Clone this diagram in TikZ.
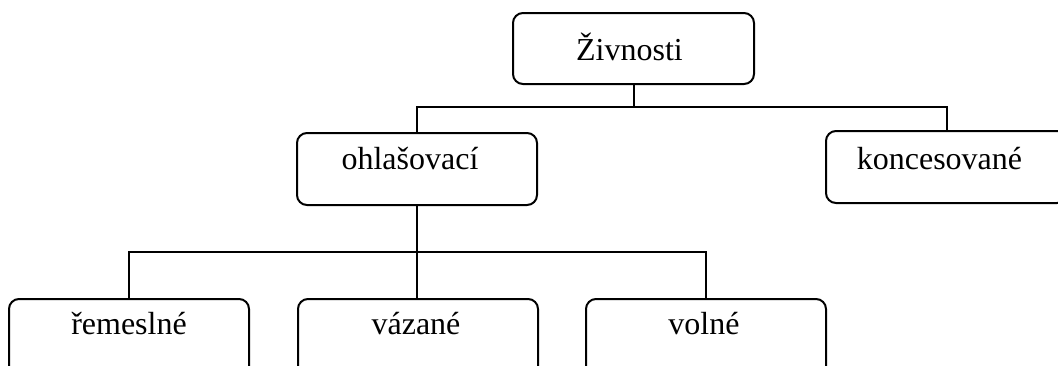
\documentclass[tikz,border=0pt]{standalone}
\usepackage{fontspec}
\setmainfont{Liberation Serif}
\begin{document}
\begin{tikzpicture}[x=1pt,y=-1pt,
  box/.style={draw, line width=2pt, rounded corners=10pt, inner sep=0pt,
    minimum width=241pt, anchor=north west,
    font=\fontsize{32}{36}\selectfont},
  conn/.style={line width=2pt}]
\useasboundingbox (0,0) rectangle (1058,365);
\clip (0,0) rectangle (1058,365);
\node[box, text height=47pt, text depth=24pt] (ziv) at (512,12) {\kern-8pt Živnosti};
\node[box, text height=36pt, text depth=36pt, minimum width=240pt] (ohl) at (296,132) {\kern-14pt ohlašovací};
\node[box, text height=38pt, text depth=34pt] (kon) at (825,130) {\kern-14pt koncesované};
\node[box, text height=35pt, text depth=50pt, minimum width=240pt] (rem) at (8,298) {řemeslné};
\node[box, text height=35pt, text depth=50pt, minimum width=240pt] (vaz) at (297,298) {\kern-4pt vázané};
\node[box, text height=35pt, text depth=50pt, minimum width=240pt] (vol) at (585,298) {\kern-4pt volné};
\coordinate (bus1) at (0,107);
\coordinate (bus2) at (0,252);
\draw[conn] (ziv.south) -- (ziv.south |- bus1);
\draw[conn] (ohl.north) -- (ohl.north |- bus1) -- (kon.north |- bus1) -- (kon.north);
\draw[conn] (ohl.south) -- (ohl.south |- vaz.north);
\draw[conn] (rem.north) -- (rem.north |- bus2) -- (vol.north |- bus2) -- (vol.north);
\end{tikzpicture}
\end{document}
